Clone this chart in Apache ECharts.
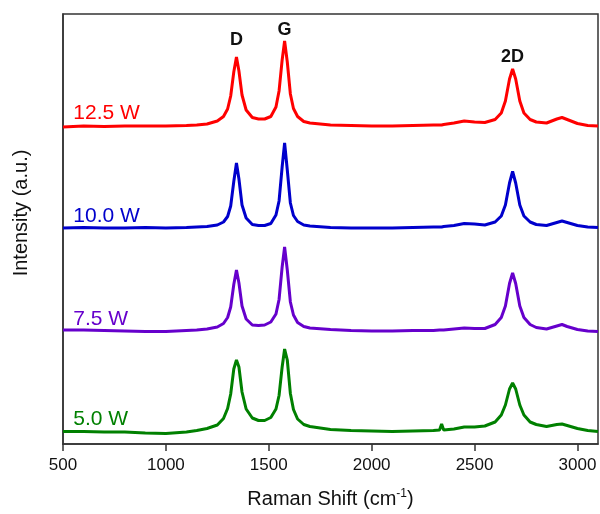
<!DOCTYPE html>
<html>
<head>
<meta charset="utf-8">
<script src="https://cdn.jsdelivr.net/npm/echarts@6/dist/echarts.min.js"></script>
<style>
  html, body { margin: 0; padding: 0; background: #fff; }
  #chart { width: 600px; height: 514px; }
</style>
</head>
<body>
<div id="chart"></div>
<script>
// Raman shift (cm-1) sample points
const shifts = [500, 600, 700, 800, 900, 1000, 1100, 1150, 1200, 1250, 1280, 1300,
  1315, 1330, 1343, 1355, 1370, 1390, 1420, 1450, 1480, 1510, 1535, 1550,
  1565, 1577, 1590, 1605, 1620, 1640, 1670, 1700, 1800, 1900, 2000, 2100,
  2200, 2300, 2330, 2340, 2350, 2400, 2450, 2500, 2550, 2600, 2630, 2650,
  2670, 2685, 2700, 2720, 2740, 2770, 2800, 2850, 2900, 2925, 2950, 3000,
  3050, 3100]

// stacked intensities (a.u., offset per trace)
const w125 = [317, 318, 317.5, 318, 318, 318, 318.5, 319, 320, 323, 327.5, 335,
  348, 372, 387, 373, 349, 334, 326.5, 325, 325, 327.5, 337, 353,
  384, 403, 382, 350, 335.5, 327.5, 322.5, 321, 319, 318.5, 318, 318,
  318.5, 319, 319, 319, 319.5, 321, 323, 322, 321.5, 324.5, 331, 343,
  365, 375, 365, 343, 331, 324.5, 322, 321, 325, 326.5, 324.5, 320.5,
  318.5, 318]
const w100 = [216, 216.5, 216, 216, 216.5, 216, 216.5, 217, 217.5, 219, 222, 227.5,
  238, 262.5, 281, 265, 239, 226, 219.5, 218.5, 218.5, 220.5, 229, 243,
  277, 301, 274, 241, 228.5, 222.5, 219, 218, 216.5, 216, 216, 216,
  216.5, 217, 217, 217, 217.5, 218.5, 220.5, 220, 219, 222, 228, 239,
  261, 272.5, 261, 239, 228, 222, 219.5, 218.5, 221.5, 223, 221.5, 218.5,
  217, 216.5]
const w75 = [114, 114, 113.5, 113, 112.5, 112.5, 113.5, 114, 115, 117, 120.5, 126.5,
  137, 159.5, 174, 161, 138, 125, 119, 118.5, 119, 122, 130, 144.5,
  177, 197, 174, 142, 129, 121.5, 117.5, 116, 114.5, 113.5, 113, 113,
  113.5, 113.5, 114, 114, 114, 115, 116, 115.5, 115.5, 119.5, 126.5, 138,
  160.5, 171, 160.5, 138, 126.5, 119.5, 116.5, 115, 118, 119.5, 117.5, 114.5,
  113, 112.5]
const w50 = [12.5, 12.5, 12, 12, 11, 10.5, 12, 13.5, 15.5, 19, 25.5, 35.5,
  50, 75, 84, 77, 52, 35, 26, 23.5, 23.5, 26.5, 35, 48.5,
  77, 95, 84, 50.5, 34.5, 25, 19.5, 17.5, 14.5, 13.5, 13, 12.5,
  13, 13.5, 14, 20, 14, 15, 17, 17, 18, 22, 29, 39,
  55, 61, 55, 39, 29, 22, 19.5, 17.5, 19.5, 20, 18.5, 15.5,
  13.5, 12.5]

const traceNames = ['12.5 W', '10.0 W', '7.5 W', '5.0 W']
const traceColors = ['#ff0000', '#0000cc', '#6600cc', '#008000']
const traceData = [w125, w100, w75, w50]
// where each power label sits (left edge x, centre y)
const nameSpots = [[550, 331], [550, 228], [550, 125], [550, 25]]

const peakNames = ['D', 'G', '2D']
const peakSpots = [[1343, 404], [1577, 414], [2685, 387]]

const font = 'Liberation Sans, Arial, sans-serif'

const chart = echarts.init(document.getElementById('chart'))

const series = traceData.map(function (arr, k) {
  const s = {
    name: traceNames[k],
    type: 'line',
    showSymbol: false,
    smooth: false,
    lineStyle: { color: traceColors[k], width: 3 },
    itemStyle: { color: traceColors[k] },
    data: shifts.map(function (x, i) { return [x, arr[i]] }),
    markPoint: {
      symbol: 'circle',
      symbolSize: 0,
      label: {
        show: true,
        position: 'inside',
        align: 'left',
        verticalAlign: 'middle',
        color: traceColors[k],
        fontSize: 21,
        fontFamily: font,
        formatter: traceNames[k]
      },
      data: [{ coord: nameSpots[k] }]
    }
  }
  if (k === 0) {
    s.markPoint.data = s.markPoint.data.concat(peakNames.map(function (p, j) {
      return {
        coord: peakSpots[j],
        label: {
          formatter: p,
          align: 'center',
          color: '#111',
          fontWeight: 'bold',
          fontSize: 18
        }
      }
    }))
  }
  return s
})

const option = {
  animation: false,
  grid: {
    left: 63,
    right: 2,
    top: 14,
    bottom: 70,
    show: true,
    borderColor: '#333',
    borderWidth: 1.5
  },
  xAxis: {
    type: 'value',
    min: 500,
    max: 3100,
    interval: 500,
    name: '{a|Raman Shift (cm}{s|-1}{a|)}',
    nameLocation: 'middle',
    nameGap: 44,
    nameTextStyle: {
      rich: {
        a: { fontSize: 20, fontFamily: font, color: '#111' },
        s: { fontSize: 12, fontFamily: font, color: '#111', padding: [0, 0, 10, 0] }
      }
    },
    axisLine: { lineStyle: { color: '#333', width: 1.5 } },
    axisTick: { show: true, inside: false, length: 7, lineStyle: { color: '#333', width: 1.5 } },
    axisLabel: {
      fontSize: 17,
      fontFamily: font,
      color: '#111',
      margin: 13,
      showMaxLabel: false,
      formatter: function (v) { return String(v) }
    },
    splitLine: { show: false }
  },
  yAxis: {
    type: 'value',
    min: 0,
    max: 430,
    name: 'Intensity (a.u.)',
    nameLocation: 'middle',
    nameGap: 32,
    nameTextStyle: { fontSize: 20, fontFamily: font, color: '#111', padding: [0, 0, 0, 32] },
    axisLine: { show: true, lineStyle: { color: '#333', width: 1.5 } },
    axisTick: { show: false },
    axisLabel: { show: false },
    splitLine: { show: false }
  },
  series: series
}

chart.setOption(option)
</script>
</body>
</html>
